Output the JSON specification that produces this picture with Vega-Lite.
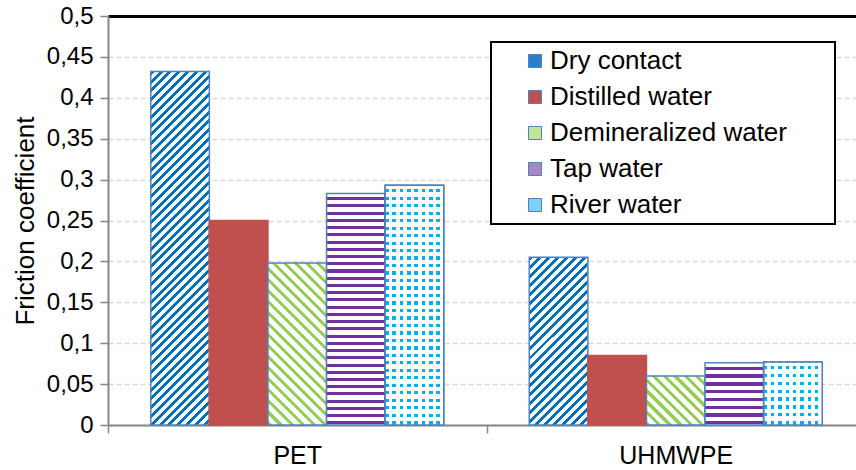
{
"$schema": "https://vega.github.io/schema/vega-lite/v6.json",
"width": 748, "height": 409,
"autosize": "none",
"padding": {"left": 108, "top": 16, "right": 0, "bottom": 45},
"background": "white",
"config": {"font": "Liberation Sans", "view": {"stroke": null}, "legend": {"strokeWidth": 2}},
"data": {"values": [
{"material": "PET", "series": "Dry contact", "value": 0.432},
{"material": "PET", "series": "Distilled water", "value": 0.25},
{"material": "PET", "series": "Demineralized water", "value": 0.198},
{"material": "PET", "series": "Tap water", "value": 0.283},
{"material": "PET", "series": "River water", "value": 0.293},
{"material": "UHMWPE", "series": "Dry contact", "value": 0.205},
{"material": "UHMWPE", "series": "Distilled water", "value": 0.085},
{"material": "UHMWPE", "series": "Demineralized water", "value": 0.06},
{"material": "UHMWPE", "series": "Tap water", "value": 0.076},
{"material": "UHMWPE", "series": "River water", "value": 0.077}
]},
"encoding": {
"x": {"field": "material", "type": "nominal", "sort": ["PET", "UHMWPE"], "scale": {"range": [0, 757], "paddingInner": 0, "paddingOuter": 0},
 "axis": {"orient": "bottom", "title": null, "domainColor": "#868686", "domainWidth": 2, "tickColor": "#868686", "tickWidth": 1.5, "tickSize": 8, "tickBand": "extent", "labelFontSize": 25, "labelColor": "black", "labelPadding": 10, "labelAngle": 0, "grid": false}},
"xOffset": {"field": "series", "type": "nominal", "sort": ["Dry contact", "Distilled water", "Demineralized water", "Tap water", "River water"], "scale": {"domain": ["Dry contact", "Distilled water", "Demineralized water", "Tap water", "River water"], "paddingInner": 0, "paddingOuter": 0.73}},
"y": {"field": "value", "type": "quantitative", "scale": {"domain": [0, 0.5], "nice": false},
 "axis": {"title": "Friction coefficient", "values": [0, 0.05, 0.1, 0.15, 0.2, 0.25, 0.3, 0.35, 0.4, 0.45, 0.5], "format": "~g", "labelExpr": "replace(datum.label, '.', ',')", "labelFontSize": 24, "labelColor": "black", "labelPadding": 7, "domainColor": "#868686", "domainWidth": 2, "tickColor": "#868686", "tickWidth": 1.5, "tickSize": 8, "gridColor": "#D9D9D9", "gridDash": [5, 3], "gridWidth": 1.3, "titleFontSize": 26, "titleFontWeight": "normal", "titleColor": "black", "titlePadding": 8}}
},
"layer": [
{"mark": {"type": "bar", "strokeWidth": 1.5},
 "encoding": {
  "stroke": {"condition": {"test": "datum.series == 'Distilled water'", "value": "#C0504D"}, "value": "#4F81BD"},
  "fill": {"field": "series", "type": "nominal",
   "scale": {"domain": ["Dry contact", "Distilled water", "Demineralized water", "Tap water", "River water"],
    "range": ["#2a7fc6", "#C0504D", "#c2e49c", "#a887c4", "#7fd0f2"]},
   "legend": {"title": " ", "titleOrient": "right", "titlePadding": 42, "titleFontSize": 26, "orient": "none", "legendX": 383, "legendY": 26, "symbolType": "square", "symbolSize": 169, "symbolStrokeColor": "#4F81BD", "symbolStrokeWidth": 1, "symbolOffset": 25, "labelOffset": 2, "labelFontSize": 26, "labelColor": "black", "labelLimit": 400, "rowPadding": 10, "padding": 6, "strokeColor": "black", "fillColor": "white"},
   "condition": [
    {"test": "datum.series == 'Dry contact' && datum.material == 'PET'", "value": {"gradient": "linear", "x1": 0, "y1": 0, "x2": 0.2009, "y2": 1.2117, "stops": [
{"offset":0,"color":"#fff"},{"offset":0,"color":"#0070c0"},{"offset":0.0088,"color":"#0070c0"},{"offset":0.0088,"color":"#fff"},
{"offset":0.02,"color":"#fff"},{"offset":0.02,"color":"#0070c0"},{"offset":0.0288,"color":"#0070c0"},{"offset":0.0288,"color":"#fff"},
{"offset":0.04,"color":"#fff"},{"offset":0.04,"color":"#0070c0"},{"offset":0.0488,"color":"#0070c0"},{"offset":0.0488,"color":"#fff"},
{"offset":0.06,"color":"#fff"},{"offset":0.06,"color":"#0070c0"},{"offset":0.0688,"color":"#0070c0"},{"offset":0.0688,"color":"#fff"},
{"offset":0.08,"color":"#fff"},{"offset":0.08,"color":"#0070c0"},{"offset":0.0888,"color":"#0070c0"},{"offset":0.0888,"color":"#fff"},
{"offset":0.1,"color":"#fff"},{"offset":0.1,"color":"#0070c0"},{"offset":0.1088,"color":"#0070c0"},{"offset":0.1088,"color":"#fff"},
{"offset":0.12,"color":"#fff"},{"offset":0.12,"color":"#0070c0"},{"offset":0.1288,"color":"#0070c0"},{"offset":0.1288,"color":"#fff"},
{"offset":0.14,"color":"#fff"},{"offset":0.14,"color":"#0070c0"},{"offset":0.1488,"color":"#0070c0"},{"offset":0.1488,"color":"#fff"},
{"offset":0.16,"color":"#fff"},{"offset":0.16,"color":"#0070c0"},{"offset":0.1688,"color":"#0070c0"},{"offset":0.1688,"color":"#fff"},
{"offset":0.18,"color":"#fff"},{"offset":0.18,"color":"#0070c0"},{"offset":0.1888,"color":"#0070c0"},{"offset":0.1888,"color":"#fff"},
{"offset":0.2,"color":"#fff"},{"offset":0.2,"color":"#0070c0"},{"offset":0.2088,"color":"#0070c0"},{"offset":0.2088,"color":"#fff"},
{"offset":0.22,"color":"#fff"},{"offset":0.22,"color":"#0070c0"},{"offset":0.2288,"color":"#0070c0"},{"offset":0.2288,"color":"#fff"},
{"offset":0.24,"color":"#fff"},{"offset":0.24,"color":"#0070c0"},{"offset":0.2488,"color":"#0070c0"},{"offset":0.2488,"color":"#fff"},
{"offset":0.26,"color":"#fff"},{"offset":0.26,"color":"#0070c0"},{"offset":0.2688,"color":"#0070c0"},{"offset":0.2688,"color":"#fff"},
{"offset":0.28,"color":"#fff"},{"offset":0.28,"color":"#0070c0"},{"offset":0.2888,"color":"#0070c0"},{"offset":0.2888,"color":"#fff"},
{"offset":0.3,"color":"#fff"},{"offset":0.3,"color":"#0070c0"},{"offset":0.3088,"color":"#0070c0"},{"offset":0.3088,"color":"#fff"},
{"offset":0.32,"color":"#fff"},{"offset":0.32,"color":"#0070c0"},{"offset":0.3288,"color":"#0070c0"},{"offset":0.3288,"color":"#fff"},
{"offset":0.34,"color":"#fff"},{"offset":0.34,"color":"#0070c0"},{"offset":0.3488,"color":"#0070c0"},{"offset":0.3488,"color":"#fff"},
{"offset":0.36,"color":"#fff"},{"offset":0.36,"color":"#0070c0"},{"offset":0.3688,"color":"#0070c0"},{"offset":0.3688,"color":"#fff"},
{"offset":0.38,"color":"#fff"},{"offset":0.38,"color":"#0070c0"},{"offset":0.3888,"color":"#0070c0"},{"offset":0.3888,"color":"#fff"},
{"offset":0.4,"color":"#fff"},{"offset":0.4,"color":"#0070c0"},{"offset":0.4088,"color":"#0070c0"},{"offset":0.4088,"color":"#fff"},
{"offset":0.42,"color":"#fff"},{"offset":0.42,"color":"#0070c0"},{"offset":0.4288,"color":"#0070c0"},{"offset":0.4288,"color":"#fff"},
{"offset":0.44,"color":"#fff"},{"offset":0.44,"color":"#0070c0"},{"offset":0.4488,"color":"#0070c0"},{"offset":0.4488,"color":"#fff"},
{"offset":0.46,"color":"#fff"},{"offset":0.46,"color":"#0070c0"},{"offset":0.4688,"color":"#0070c0"},{"offset":0.4688,"color":"#fff"},
{"offset":0.48,"color":"#fff"},{"offset":0.48,"color":"#0070c0"},{"offset":0.4888,"color":"#0070c0"},{"offset":0.4888,"color":"#fff"},
{"offset":0.5,"color":"#fff"},{"offset":0.5,"color":"#0070c0"},{"offset":0.5088,"color":"#0070c0"},{"offset":0.5088,"color":"#fff"},
{"offset":0.52,"color":"#fff"},{"offset":0.52,"color":"#0070c0"},{"offset":0.5288,"color":"#0070c0"},{"offset":0.5288,"color":"#fff"},
{"offset":0.54,"color":"#fff"},{"offset":0.54,"color":"#0070c0"},{"offset":0.5488,"color":"#0070c0"},{"offset":0.5488,"color":"#fff"},
{"offset":0.56,"color":"#fff"},{"offset":0.56,"color":"#0070c0"},{"offset":0.5688,"color":"#0070c0"},{"offset":0.5688,"color":"#fff"},
{"offset":0.58,"color":"#fff"},{"offset":0.58,"color":"#0070c0"},{"offset":0.5888,"color":"#0070c0"},{"offset":0.5888,"color":"#fff"},
{"offset":0.6,"color":"#fff"},{"offset":0.6,"color":"#0070c0"},{"offset":0.6088,"color":"#0070c0"},{"offset":0.6088,"color":"#fff"},
{"offset":0.62,"color":"#fff"},{"offset":0.62,"color":"#0070c0"},{"offset":0.6288,"color":"#0070c0"},{"offset":0.6288,"color":"#fff"},
{"offset":0.64,"color":"#fff"},{"offset":0.64,"color":"#0070c0"},{"offset":0.6488,"color":"#0070c0"},{"offset":0.6488,"color":"#fff"},
{"offset":0.66,"color":"#fff"},{"offset":0.66,"color":"#0070c0"},{"offset":0.6688,"color":"#0070c0"},{"offset":0.6688,"color":"#fff"},
{"offset":0.68,"color":"#fff"},{"offset":0.68,"color":"#0070c0"},{"offset":0.6888,"color":"#0070c0"},{"offset":0.6888,"color":"#fff"},
{"offset":0.7,"color":"#fff"},{"offset":0.7,"color":"#0070c0"},{"offset":0.7088,"color":"#0070c0"},{"offset":0.7088,"color":"#fff"},
{"offset":0.72,"color":"#fff"},{"offset":0.72,"color":"#0070c0"},{"offset":0.7288,"color":"#0070c0"},{"offset":0.7288,"color":"#fff"},
{"offset":0.74,"color":"#fff"},{"offset":0.74,"color":"#0070c0"},{"offset":0.7488,"color":"#0070c0"},{"offset":0.7488,"color":"#fff"},
{"offset":0.76,"color":"#fff"},{"offset":0.76,"color":"#0070c0"},{"offset":0.7688,"color":"#0070c0"},{"offset":0.7688,"color":"#fff"},
{"offset":0.78,"color":"#fff"},{"offset":0.78,"color":"#0070c0"},{"offset":0.7888,"color":"#0070c0"},{"offset":0.7888,"color":"#fff"},
{"offset":0.8,"color":"#fff"},{"offset":0.8,"color":"#0070c0"},{"offset":0.8088,"color":"#0070c0"},{"offset":0.8088,"color":"#fff"},
{"offset":0.82,"color":"#fff"},{"offset":0.82,"color":"#0070c0"},{"offset":0.8288,"color":"#0070c0"},{"offset":0.8288,"color":"#fff"},
{"offset":0.84,"color":"#fff"},{"offset":0.84,"color":"#0070c0"},{"offset":0.8488,"color":"#0070c0"},{"offset":0.8488,"color":"#fff"},
{"offset":0.86,"color":"#fff"},{"offset":0.86,"color":"#0070c0"},{"offset":0.8688,"color":"#0070c0"},{"offset":0.8688,"color":"#fff"},
{"offset":0.88,"color":"#fff"},{"offset":0.88,"color":"#0070c0"},{"offset":0.8888,"color":"#0070c0"},{"offset":0.8888,"color":"#fff"},
{"offset":0.9,"color":"#fff"},{"offset":0.9,"color":"#0070c0"},{"offset":0.9088,"color":"#0070c0"},{"offset":0.9088,"color":"#fff"},
{"offset":0.92,"color":"#fff"},{"offset":0.92,"color":"#0070c0"},{"offset":0.9288,"color":"#0070c0"},{"offset":0.9288,"color":"#fff"}
    ]}},
    {"test": "datum.series == 'Dry contact'", "value": {"gradient": "linear", "x1": 0, "y1": 0, "x2": 0.4196, "y2": 1.2011, "stops": [
{"offset":0,"color":"#fff"},{"offset":0,"color":"#0070c0"},{"offset":0.0176,"color":"#0070c0"},{"offset":0.0176,"color":"#fff"},
{"offset":0.04,"color":"#fff"},{"offset":0.04,"color":"#0070c0"},{"offset":0.0576,"color":"#0070c0"},{"offset":0.0576,"color":"#fff"},
{"offset":0.08,"color":"#fff"},{"offset":0.08,"color":"#0070c0"},{"offset":0.0976,"color":"#0070c0"},{"offset":0.0976,"color":"#fff"},
{"offset":0.12,"color":"#fff"},{"offset":0.12,"color":"#0070c0"},{"offset":0.1376,"color":"#0070c0"},{"offset":0.1376,"color":"#fff"},
{"offset":0.16,"color":"#fff"},{"offset":0.16,"color":"#0070c0"},{"offset":0.1776,"color":"#0070c0"},{"offset":0.1776,"color":"#fff"},
{"offset":0.2,"color":"#fff"},{"offset":0.2,"color":"#0070c0"},{"offset":0.2176,"color":"#0070c0"},{"offset":0.2176,"color":"#fff"},
{"offset":0.24,"color":"#fff"},{"offset":0.24,"color":"#0070c0"},{"offset":0.2576,"color":"#0070c0"},{"offset":0.2576,"color":"#fff"},
{"offset":0.28,"color":"#fff"},{"offset":0.28,"color":"#0070c0"},{"offset":0.2976,"color":"#0070c0"},{"offset":0.2976,"color":"#fff"},
{"offset":0.32,"color":"#fff"},{"offset":0.32,"color":"#0070c0"},{"offset":0.3376,"color":"#0070c0"},{"offset":0.3376,"color":"#fff"},
{"offset":0.36,"color":"#fff"},{"offset":0.36,"color":"#0070c0"},{"offset":0.3776,"color":"#0070c0"},{"offset":0.3776,"color":"#fff"},
{"offset":0.4,"color":"#fff"},{"offset":0.4,"color":"#0070c0"},{"offset":0.4176,"color":"#0070c0"},{"offset":0.4176,"color":"#fff"},
{"offset":0.44,"color":"#fff"},{"offset":0.44,"color":"#0070c0"},{"offset":0.4576,"color":"#0070c0"},{"offset":0.4576,"color":"#fff"},
{"offset":0.48,"color":"#fff"},{"offset":0.48,"color":"#0070c0"},{"offset":0.4976,"color":"#0070c0"},{"offset":0.4976,"color":"#fff"},
{"offset":0.52,"color":"#fff"},{"offset":0.52,"color":"#0070c0"},{"offset":0.5376,"color":"#0070c0"},{"offset":0.5376,"color":"#fff"},
{"offset":0.56,"color":"#fff"},{"offset":0.56,"color":"#0070c0"},{"offset":0.5776,"color":"#0070c0"},{"offset":0.5776,"color":"#fff"},
{"offset":0.6,"color":"#fff"},{"offset":0.6,"color":"#0070c0"},{"offset":0.6176,"color":"#0070c0"},{"offset":0.6176,"color":"#fff"},
{"offset":0.64,"color":"#fff"},{"offset":0.64,"color":"#0070c0"},{"offset":0.6576,"color":"#0070c0"},{"offset":0.6576,"color":"#fff"},
{"offset":0.68,"color":"#fff"},{"offset":0.68,"color":"#0070c0"},{"offset":0.6976,"color":"#0070c0"},{"offset":0.6976,"color":"#fff"},
{"offset":0.72,"color":"#fff"},{"offset":0.72,"color":"#0070c0"},{"offset":0.7376,"color":"#0070c0"},{"offset":0.7376,"color":"#fff"},
{"offset":0.76,"color":"#fff"},{"offset":0.76,"color":"#0070c0"},{"offset":0.7776,"color":"#0070c0"},{"offset":0.7776,"color":"#fff"},
{"offset":0.8,"color":"#fff"},{"offset":0.8,"color":"#0070c0"},{"offset":0.8176,"color":"#0070c0"},{"offset":0.8176,"color":"#fff"},
{"offset":0.84,"color":"#fff"},{"offset":0.84,"color":"#0070c0"},{"offset":0.8576,"color":"#0070c0"},{"offset":0.8576,"color":"#fff"},
{"offset":0.88,"color":"#fff"},{"offset":0.88,"color":"#0070c0"},{"offset":0.8976,"color":"#0070c0"},{"offset":0.8976,"color":"#fff"},
{"offset":0.92,"color":"#fff"},{"offset":0.92,"color":"#0070c0"},{"offset":0.9376,"color":"#0070c0"},{"offset":0.9376,"color":"#fff"},
{"offset":0.96,"color":"#fff"},{"offset":0.96,"color":"#0070c0"},{"offset":0.9776,"color":"#0070c0"},{"offset":0.9776,"color":"#fff"}
    ]}},
    {"test": "datum.series == 'Demineralized water' && datum.material == 'PET'", "value": {"gradient": "linear", "x1": 0, "y1": 1, "x2": 0.4355, "y2": -0.2042, "stops": [
{"offset":0,"color":"#fff"},{"offset":0,"color":"#92d050"},{"offset":0.02,"color":"#92d050"},{"offset":0.02,"color":"#fff"},
{"offset":0.05,"color":"#fff"},{"offset":0.05,"color":"#92d050"},{"offset":0.07,"color":"#92d050"},{"offset":0.07,"color":"#fff"},
{"offset":0.1,"color":"#fff"},{"offset":0.1,"color":"#92d050"},{"offset":0.12,"color":"#92d050"},{"offset":0.12,"color":"#fff"},
{"offset":0.15,"color":"#fff"},{"offset":0.15,"color":"#92d050"},{"offset":0.17,"color":"#92d050"},{"offset":0.17,"color":"#fff"},
{"offset":0.2,"color":"#fff"},{"offset":0.2,"color":"#92d050"},{"offset":0.22,"color":"#92d050"},{"offset":0.22,"color":"#fff"},
{"offset":0.25,"color":"#fff"},{"offset":0.25,"color":"#92d050"},{"offset":0.27,"color":"#92d050"},{"offset":0.27,"color":"#fff"},
{"offset":0.3,"color":"#fff"},{"offset":0.3,"color":"#92d050"},{"offset":0.32,"color":"#92d050"},{"offset":0.32,"color":"#fff"},
{"offset":0.35,"color":"#fff"},{"offset":0.35,"color":"#92d050"},{"offset":0.37,"color":"#92d050"},{"offset":0.37,"color":"#fff"},
{"offset":0.4,"color":"#fff"},{"offset":0.4,"color":"#92d050"},{"offset":0.42,"color":"#92d050"},{"offset":0.42,"color":"#fff"},
{"offset":0.45,"color":"#fff"},{"offset":0.45,"color":"#92d050"},{"offset":0.47,"color":"#92d050"},{"offset":0.47,"color":"#fff"},
{"offset":0.5,"color":"#fff"},{"offset":0.5,"color":"#92d050"},{"offset":0.52,"color":"#92d050"},{"offset":0.52,"color":"#fff"},
{"offset":0.55,"color":"#fff"},{"offset":0.55,"color":"#92d050"},{"offset":0.57,"color":"#92d050"},{"offset":0.57,"color":"#fff"},
{"offset":0.6,"color":"#fff"},{"offset":0.6,"color":"#92d050"},{"offset":0.62,"color":"#92d050"},{"offset":0.62,"color":"#fff"},
{"offset":0.65,"color":"#fff"},{"offset":0.65,"color":"#92d050"},{"offset":0.67,"color":"#92d050"},{"offset":0.67,"color":"#fff"},
{"offset":0.7,"color":"#fff"},{"offset":0.7,"color":"#92d050"},{"offset":0.72,"color":"#92d050"},{"offset":0.72,"color":"#fff"},
{"offset":0.75,"color":"#fff"},{"offset":0.75,"color":"#92d050"},{"offset":0.77,"color":"#92d050"},{"offset":0.77,"color":"#fff"},
{"offset":0.8,"color":"#fff"},{"offset":0.8,"color":"#92d050"},{"offset":0.82,"color":"#92d050"},{"offset":0.82,"color":"#fff"},
{"offset":0.85,"color":"#fff"},{"offset":0.85,"color":"#92d050"},{"offset":0.87,"color":"#92d050"},{"offset":0.87,"color":"#fff"},
{"offset":0.9,"color":"#fff"},{"offset":0.9,"color":"#92d050"},{"offset":0.92,"color":"#92d050"},{"offset":0.92,"color":"#fff"},
{"offset":0.95,"color":"#fff"},{"offset":0.95,"color":"#92d050"},{"offset":0.97,"color":"#92d050"},{"offset":0.97,"color":"#fff"}
    ]}},
    {"test": "datum.series == 'Demineralized water'", "value": {"gradient": "linear", "x1": 0, "y1": 1, "x2": 1.0798, "y2": 0.0951, "stops": [
{"offset":0,"color":"#fff"},{"offset":0,"color":"#92d050"},{"offset":0.04,"color":"#92d050"},{"offset":0.04,"color":"#fff"},
{"offset":0.1,"color":"#fff"},{"offset":0.1,"color":"#92d050"},{"offset":0.14,"color":"#92d050"},{"offset":0.14,"color":"#fff"},
{"offset":0.2,"color":"#fff"},{"offset":0.2,"color":"#92d050"},{"offset":0.24,"color":"#92d050"},{"offset":0.24,"color":"#fff"},
{"offset":0.3,"color":"#fff"},{"offset":0.3,"color":"#92d050"},{"offset":0.34,"color":"#92d050"},{"offset":0.34,"color":"#fff"},
{"offset":0.4,"color":"#fff"},{"offset":0.4,"color":"#92d050"},{"offset":0.44,"color":"#92d050"},{"offset":0.44,"color":"#fff"},
{"offset":0.5,"color":"#fff"},{"offset":0.5,"color":"#92d050"},{"offset":0.54,"color":"#92d050"},{"offset":0.54,"color":"#fff"},
{"offset":0.6,"color":"#fff"},{"offset":0.6,"color":"#92d050"},{"offset":0.64,"color":"#92d050"},{"offset":0.64,"color":"#fff"},
{"offset":0.7,"color":"#fff"},{"offset":0.7,"color":"#92d050"},{"offset":0.74,"color":"#92d050"},{"offset":0.74,"color":"#fff"},
{"offset":0.8,"color":"#fff"},{"offset":0.8,"color":"#92d050"},{"offset":0.84,"color":"#92d050"},{"offset":0.84,"color":"#fff"},
{"offset":0.9,"color":"#fff"},{"offset":0.9,"color":"#92d050"},{"offset":0.94,"color":"#92d050"},{"offset":0.94,"color":"#fff"}
    ]}},
    {"test": "datum.series == 'Tap water' && datum.material == 'PET'", "value": {"gradient": "linear", "x1": 1, "y1": 0, "x2": 1, "y2": 1, "stops": [
{"offset":0.0156,"color":"#fff"},{"offset":0.0156,"color":"#7030a0"},{"offset":0.0288,"color":"#7030a0"},{"offset":0.0288,"color":"#fff"},
{"offset":0.0469,"color":"#fff"},{"offset":0.0469,"color":"#7030a0"},{"offset":0.06,"color":"#7030a0"},{"offset":0.06,"color":"#fff"},
{"offset":0.0781,"color":"#fff"},{"offset":0.0781,"color":"#7030a0"},{"offset":0.0913,"color":"#7030a0"},{"offset":0.0913,"color":"#fff"},
{"offset":0.1094,"color":"#fff"},{"offset":0.1094,"color":"#7030a0"},{"offset":0.1225,"color":"#7030a0"},{"offset":0.1225,"color":"#fff"},
{"offset":0.1406,"color":"#fff"},{"offset":0.1406,"color":"#7030a0"},{"offset":0.1538,"color":"#7030a0"},{"offset":0.1538,"color":"#fff"},
{"offset":0.1719,"color":"#fff"},{"offset":0.1719,"color":"#7030a0"},{"offset":0.185,"color":"#7030a0"},{"offset":0.185,"color":"#fff"},
{"offset":0.2031,"color":"#fff"},{"offset":0.2031,"color":"#7030a0"},{"offset":0.2163,"color":"#7030a0"},{"offset":0.2163,"color":"#fff"},
{"offset":0.2344,"color":"#fff"},{"offset":0.2344,"color":"#7030a0"},{"offset":0.2475,"color":"#7030a0"},{"offset":0.2475,"color":"#fff"},
{"offset":0.2656,"color":"#fff"},{"offset":0.2656,"color":"#7030a0"},{"offset":0.2788,"color":"#7030a0"},{"offset":0.2788,"color":"#fff"},
{"offset":0.2969,"color":"#fff"},{"offset":0.2969,"color":"#7030a0"},{"offset":0.31,"color":"#7030a0"},{"offset":0.31,"color":"#fff"},
{"offset":0.3281,"color":"#fff"},{"offset":0.3281,"color":"#7030a0"},{"offset":0.3413,"color":"#7030a0"},{"offset":0.3413,"color":"#fff"},
{"offset":0.3594,"color":"#fff"},{"offset":0.3594,"color":"#7030a0"},{"offset":0.3725,"color":"#7030a0"},{"offset":0.3725,"color":"#fff"},
{"offset":0.3906,"color":"#fff"},{"offset":0.3906,"color":"#7030a0"},{"offset":0.4038,"color":"#7030a0"},{"offset":0.4038,"color":"#fff"},
{"offset":0.4219,"color":"#fff"},{"offset":0.4219,"color":"#7030a0"},{"offset":0.435,"color":"#7030a0"},{"offset":0.435,"color":"#fff"},
{"offset":0.4531,"color":"#fff"},{"offset":0.4531,"color":"#7030a0"},{"offset":0.4663,"color":"#7030a0"},{"offset":0.4663,"color":"#fff"},
{"offset":0.4844,"color":"#fff"},{"offset":0.4844,"color":"#7030a0"},{"offset":0.4975,"color":"#7030a0"},{"offset":0.4975,"color":"#fff"},
{"offset":0.5156,"color":"#fff"},{"offset":0.5156,"color":"#7030a0"},{"offset":0.5288,"color":"#7030a0"},{"offset":0.5288,"color":"#fff"},
{"offset":0.5469,"color":"#fff"},{"offset":0.5469,"color":"#7030a0"},{"offset":0.56,"color":"#7030a0"},{"offset":0.56,"color":"#fff"},
{"offset":0.5781,"color":"#fff"},{"offset":0.5781,"color":"#7030a0"},{"offset":0.5913,"color":"#7030a0"},{"offset":0.5913,"color":"#fff"},
{"offset":0.6094,"color":"#fff"},{"offset":0.6094,"color":"#7030a0"},{"offset":0.6225,"color":"#7030a0"},{"offset":0.6225,"color":"#fff"},
{"offset":0.6406,"color":"#fff"},{"offset":0.6406,"color":"#7030a0"},{"offset":0.6538,"color":"#7030a0"},{"offset":0.6538,"color":"#fff"},
{"offset":0.6719,"color":"#fff"},{"offset":0.6719,"color":"#7030a0"},{"offset":0.685,"color":"#7030a0"},{"offset":0.685,"color":"#fff"},
{"offset":0.7031,"color":"#fff"},{"offset":0.7031,"color":"#7030a0"},{"offset":0.7163,"color":"#7030a0"},{"offset":0.7163,"color":"#fff"},
{"offset":0.7344,"color":"#fff"},{"offset":0.7344,"color":"#7030a0"},{"offset":0.7475,"color":"#7030a0"},{"offset":0.7475,"color":"#fff"},
{"offset":0.7656,"color":"#fff"},{"offset":0.7656,"color":"#7030a0"},{"offset":0.7788,"color":"#7030a0"},{"offset":0.7788,"color":"#fff"},
{"offset":0.7969,"color":"#fff"},{"offset":0.7969,"color":"#7030a0"},{"offset":0.81,"color":"#7030a0"},{"offset":0.81,"color":"#fff"},
{"offset":0.8281,"color":"#fff"},{"offset":0.8281,"color":"#7030a0"},{"offset":0.8413,"color":"#7030a0"},{"offset":0.8413,"color":"#fff"},
{"offset":0.8594,"color":"#fff"},{"offset":0.8594,"color":"#7030a0"},{"offset":0.8725,"color":"#7030a0"},{"offset":0.8725,"color":"#fff"},
{"offset":0.8906,"color":"#fff"},{"offset":0.8906,"color":"#7030a0"},{"offset":0.9038,"color":"#7030a0"},{"offset":0.9038,"color":"#fff"},
{"offset":0.9219,"color":"#fff"},{"offset":0.9219,"color":"#7030a0"},{"offset":0.935,"color":"#7030a0"},{"offset":0.935,"color":"#fff"},
{"offset":0.9531,"color":"#fff"},{"offset":0.9531,"color":"#7030a0"},{"offset":0.9663,"color":"#7030a0"},{"offset":0.9663,"color":"#fff"},
{"offset":0.9844,"color":"#fff"},{"offset":0.9844,"color":"#7030a0"},{"offset":0.9975,"color":"#7030a0"},{"offset":0.9975,"color":"#fff"}
    ]}},
    {"test": "datum.series == 'Tap water'", "value": {"gradient": "linear", "x1": 1, "y1": 0, "x2": 1, "y2": 1, "stops": [
{"offset":0.0625,"color":"#fff"},{"offset":0.0625,"color":"#7030a0"},{"offset":0.115,"color":"#7030a0"},{"offset":0.115,"color":"#fff"},
{"offset":0.1875,"color":"#fff"},{"offset":0.1875,"color":"#7030a0"},{"offset":0.24,"color":"#7030a0"},{"offset":0.24,"color":"#fff"},
{"offset":0.3125,"color":"#fff"},{"offset":0.3125,"color":"#7030a0"},{"offset":0.365,"color":"#7030a0"},{"offset":0.365,"color":"#fff"},
{"offset":0.4375,"color":"#fff"},{"offset":0.4375,"color":"#7030a0"},{"offset":0.49,"color":"#7030a0"},{"offset":0.49,"color":"#fff"},
{"offset":0.5625,"color":"#fff"},{"offset":0.5625,"color":"#7030a0"},{"offset":0.615,"color":"#7030a0"},{"offset":0.615,"color":"#fff"},
{"offset":0.6875,"color":"#fff"},{"offset":0.6875,"color":"#7030a0"},{"offset":0.74,"color":"#7030a0"},{"offset":0.74,"color":"#fff"},
{"offset":0.8125,"color":"#fff"},{"offset":0.8125,"color":"#7030a0"},{"offset":0.865,"color":"#7030a0"},{"offset":0.865,"color":"#fff"},
{"offset":0.9375,"color":"#fff"},{"offset":0.9375,"color":"#7030a0"},{"offset":0.99,"color":"#7030a0"},{"offset":0.99,"color":"#fff"}
    ]}},
    {"test": "datum.series == 'River water' && datum.material == 'PET'", "value": {"gradient": "linear", "x1": 1, "y1": 0, "x2": 1, "y2": 1, "stops": [
{"offset":0.0156,"color":"#fff"},{"offset":0.0156,"color":"#00b0f0"},{"offset":0.0288,"color":"#00b0f0"},{"offset":0.0288,"color":"#fff"},
{"offset":0.0469,"color":"#fff"},{"offset":0.0469,"color":"#00b0f0"},{"offset":0.06,"color":"#00b0f0"},{"offset":0.06,"color":"#fff"},
{"offset":0.0781,"color":"#fff"},{"offset":0.0781,"color":"#00b0f0"},{"offset":0.0913,"color":"#00b0f0"},{"offset":0.0913,"color":"#fff"},
{"offset":0.1094,"color":"#fff"},{"offset":0.1094,"color":"#00b0f0"},{"offset":0.1225,"color":"#00b0f0"},{"offset":0.1225,"color":"#fff"},
{"offset":0.1406,"color":"#fff"},{"offset":0.1406,"color":"#00b0f0"},{"offset":0.1538,"color":"#00b0f0"},{"offset":0.1538,"color":"#fff"},
{"offset":0.1719,"color":"#fff"},{"offset":0.1719,"color":"#00b0f0"},{"offset":0.185,"color":"#00b0f0"},{"offset":0.185,"color":"#fff"},
{"offset":0.2031,"color":"#fff"},{"offset":0.2031,"color":"#00b0f0"},{"offset":0.2163,"color":"#00b0f0"},{"offset":0.2163,"color":"#fff"},
{"offset":0.2344,"color":"#fff"},{"offset":0.2344,"color":"#00b0f0"},{"offset":0.2475,"color":"#00b0f0"},{"offset":0.2475,"color":"#fff"},
{"offset":0.2656,"color":"#fff"},{"offset":0.2656,"color":"#00b0f0"},{"offset":0.2788,"color":"#00b0f0"},{"offset":0.2788,"color":"#fff"},
{"offset":0.2969,"color":"#fff"},{"offset":0.2969,"color":"#00b0f0"},{"offset":0.31,"color":"#00b0f0"},{"offset":0.31,"color":"#fff"},
{"offset":0.3281,"color":"#fff"},{"offset":0.3281,"color":"#00b0f0"},{"offset":0.3413,"color":"#00b0f0"},{"offset":0.3413,"color":"#fff"},
{"offset":0.3594,"color":"#fff"},{"offset":0.3594,"color":"#00b0f0"},{"offset":0.3725,"color":"#00b0f0"},{"offset":0.3725,"color":"#fff"},
{"offset":0.3906,"color":"#fff"},{"offset":0.3906,"color":"#00b0f0"},{"offset":0.4038,"color":"#00b0f0"},{"offset":0.4038,"color":"#fff"},
{"offset":0.4219,"color":"#fff"},{"offset":0.4219,"color":"#00b0f0"},{"offset":0.435,"color":"#00b0f0"},{"offset":0.435,"color":"#fff"},
{"offset":0.4531,"color":"#fff"},{"offset":0.4531,"color":"#00b0f0"},{"offset":0.4663,"color":"#00b0f0"},{"offset":0.4663,"color":"#fff"},
{"offset":0.4844,"color":"#fff"},{"offset":0.4844,"color":"#00b0f0"},{"offset":0.4975,"color":"#00b0f0"},{"offset":0.4975,"color":"#fff"},
{"offset":0.5156,"color":"#fff"},{"offset":0.5156,"color":"#00b0f0"},{"offset":0.5288,"color":"#00b0f0"},{"offset":0.5288,"color":"#fff"},
{"offset":0.5469,"color":"#fff"},{"offset":0.5469,"color":"#00b0f0"},{"offset":0.56,"color":"#00b0f0"},{"offset":0.56,"color":"#fff"},
{"offset":0.5781,"color":"#fff"},{"offset":0.5781,"color":"#00b0f0"},{"offset":0.5913,"color":"#00b0f0"},{"offset":0.5913,"color":"#fff"},
{"offset":0.6094,"color":"#fff"},{"offset":0.6094,"color":"#00b0f0"},{"offset":0.6225,"color":"#00b0f0"},{"offset":0.6225,"color":"#fff"},
{"offset":0.6406,"color":"#fff"},{"offset":0.6406,"color":"#00b0f0"},{"offset":0.6538,"color":"#00b0f0"},{"offset":0.6538,"color":"#fff"},
{"offset":0.6719,"color":"#fff"},{"offset":0.6719,"color":"#00b0f0"},{"offset":0.685,"color":"#00b0f0"},{"offset":0.685,"color":"#fff"},
{"offset":0.7031,"color":"#fff"},{"offset":0.7031,"color":"#00b0f0"},{"offset":0.7163,"color":"#00b0f0"},{"offset":0.7163,"color":"#fff"},
{"offset":0.7344,"color":"#fff"},{"offset":0.7344,"color":"#00b0f0"},{"offset":0.7475,"color":"#00b0f0"},{"offset":0.7475,"color":"#fff"},
{"offset":0.7656,"color":"#fff"},{"offset":0.7656,"color":"#00b0f0"},{"offset":0.7788,"color":"#00b0f0"},{"offset":0.7788,"color":"#fff"},
{"offset":0.7969,"color":"#fff"},{"offset":0.7969,"color":"#00b0f0"},{"offset":0.81,"color":"#00b0f0"},{"offset":0.81,"color":"#fff"},
{"offset":0.8281,"color":"#fff"},{"offset":0.8281,"color":"#00b0f0"},{"offset":0.8413,"color":"#00b0f0"},{"offset":0.8413,"color":"#fff"},
{"offset":0.8594,"color":"#fff"},{"offset":0.8594,"color":"#00b0f0"},{"offset":0.8725,"color":"#00b0f0"},{"offset":0.8725,"color":"#fff"},
{"offset":0.8906,"color":"#fff"},{"offset":0.8906,"color":"#00b0f0"},{"offset":0.9038,"color":"#00b0f0"},{"offset":0.9038,"color":"#fff"},
{"offset":0.9219,"color":"#fff"},{"offset":0.9219,"color":"#00b0f0"},{"offset":0.935,"color":"#00b0f0"},{"offset":0.935,"color":"#fff"},
{"offset":0.9531,"color":"#fff"},{"offset":0.9531,"color":"#00b0f0"},{"offset":0.9663,"color":"#00b0f0"},{"offset":0.9663,"color":"#fff"},
{"offset":0.9844,"color":"#fff"},{"offset":0.9844,"color":"#00b0f0"},{"offset":0.9975,"color":"#00b0f0"},{"offset":0.9975,"color":"#fff"}
    ]}},
    {"test": "datum.series == 'River water'", "value": {"gradient": "linear", "x1": 1, "y1": 0, "x2": 1, "y2": 1, "stops": [
{"offset":0.0625,"color":"#fff"},{"offset":0.0625,"color":"#00b0f0"},{"offset":0.115,"color":"#00b0f0"},{"offset":0.115,"color":"#fff"},
{"offset":0.1875,"color":"#fff"},{"offset":0.1875,"color":"#00b0f0"},{"offset":0.24,"color":"#00b0f0"},{"offset":0.24,"color":"#fff"},
{"offset":0.3125,"color":"#fff"},{"offset":0.3125,"color":"#00b0f0"},{"offset":0.365,"color":"#00b0f0"},{"offset":0.365,"color":"#fff"},
{"offset":0.4375,"color":"#fff"},{"offset":0.4375,"color":"#00b0f0"},{"offset":0.49,"color":"#00b0f0"},{"offset":0.49,"color":"#fff"},
{"offset":0.5625,"color":"#fff"},{"offset":0.5625,"color":"#00b0f0"},{"offset":0.615,"color":"#00b0f0"},{"offset":0.615,"color":"#fff"},
{"offset":0.6875,"color":"#fff"},{"offset":0.6875,"color":"#00b0f0"},{"offset":0.74,"color":"#00b0f0"},{"offset":0.74,"color":"#fff"},
{"offset":0.8125,"color":"#fff"},{"offset":0.8125,"color":"#00b0f0"},{"offset":0.865,"color":"#00b0f0"},{"offset":0.865,"color":"#fff"},
{"offset":0.9375,"color":"#fff"},{"offset":0.9375,"color":"#00b0f0"},{"offset":0.99,"color":"#00b0f0"},{"offset":0.99,"color":"#fff"}
    ]}}
   ]}
 }},
{"transform": [{"filter": "datum.series == 'River water'"}],
 "mark": {"type": "bar", "stroke": "#4F81BD", "strokeWidth": 1.5,
  "fill": {"gradient": "linear", "x1": 0, "y1": 0, "x2": 1, "y2": 0, "stops": [
{"offset":0.06,"color":"rgba(255,255,255,0)"},{"offset":0.06,"color":"#fff"},{"offset":0.125,"color":"#fff"},{"offset":0.125,"color":"rgba(255,255,255,0)"},
{"offset":0.185,"color":"rgba(255,255,255,0)"},{"offset":0.185,"color":"#fff"},{"offset":0.25,"color":"#fff"},{"offset":0.25,"color":"rgba(255,255,255,0)"},
{"offset":0.31,"color":"rgba(255,255,255,0)"},{"offset":0.31,"color":"#fff"},{"offset":0.375,"color":"#fff"},{"offset":0.375,"color":"rgba(255,255,255,0)"},
{"offset":0.435,"color":"rgba(255,255,255,0)"},{"offset":0.435,"color":"#fff"},{"offset":0.5,"color":"#fff"},{"offset":0.5,"color":"rgba(255,255,255,0)"},
{"offset":0.56,"color":"rgba(255,255,255,0)"},{"offset":0.56,"color":"#fff"},{"offset":0.625,"color":"#fff"},{"offset":0.625,"color":"rgba(255,255,255,0)"},
{"offset":0.685,"color":"rgba(255,255,255,0)"},{"offset":0.685,"color":"#fff"},{"offset":0.75,"color":"#fff"},{"offset":0.75,"color":"rgba(255,255,255,0)"},
{"offset":0.81,"color":"rgba(255,255,255,0)"},{"offset":0.81,"color":"#fff"},{"offset":0.875,"color":"#fff"},{"offset":0.875,"color":"rgba(255,255,255,0)"},
{"offset":0.935,"color":"rgba(255,255,255,0)"},{"offset":0.935,"color":"#fff"},{"offset":1,"color":"#fff"}
  ]}},
 "encoding": {
  "x": {"field": "material", "type": "nominal", "sort": ["PET", "UHMWPE"],
   "axis": {"orient": "top", "title": null, "domainColor": "black", "domainWidth": 3, "ticks": false, "labels": false, "grid": false}}
 }}
],
"resolve": {"axis": {"x": "independent"}}
}
